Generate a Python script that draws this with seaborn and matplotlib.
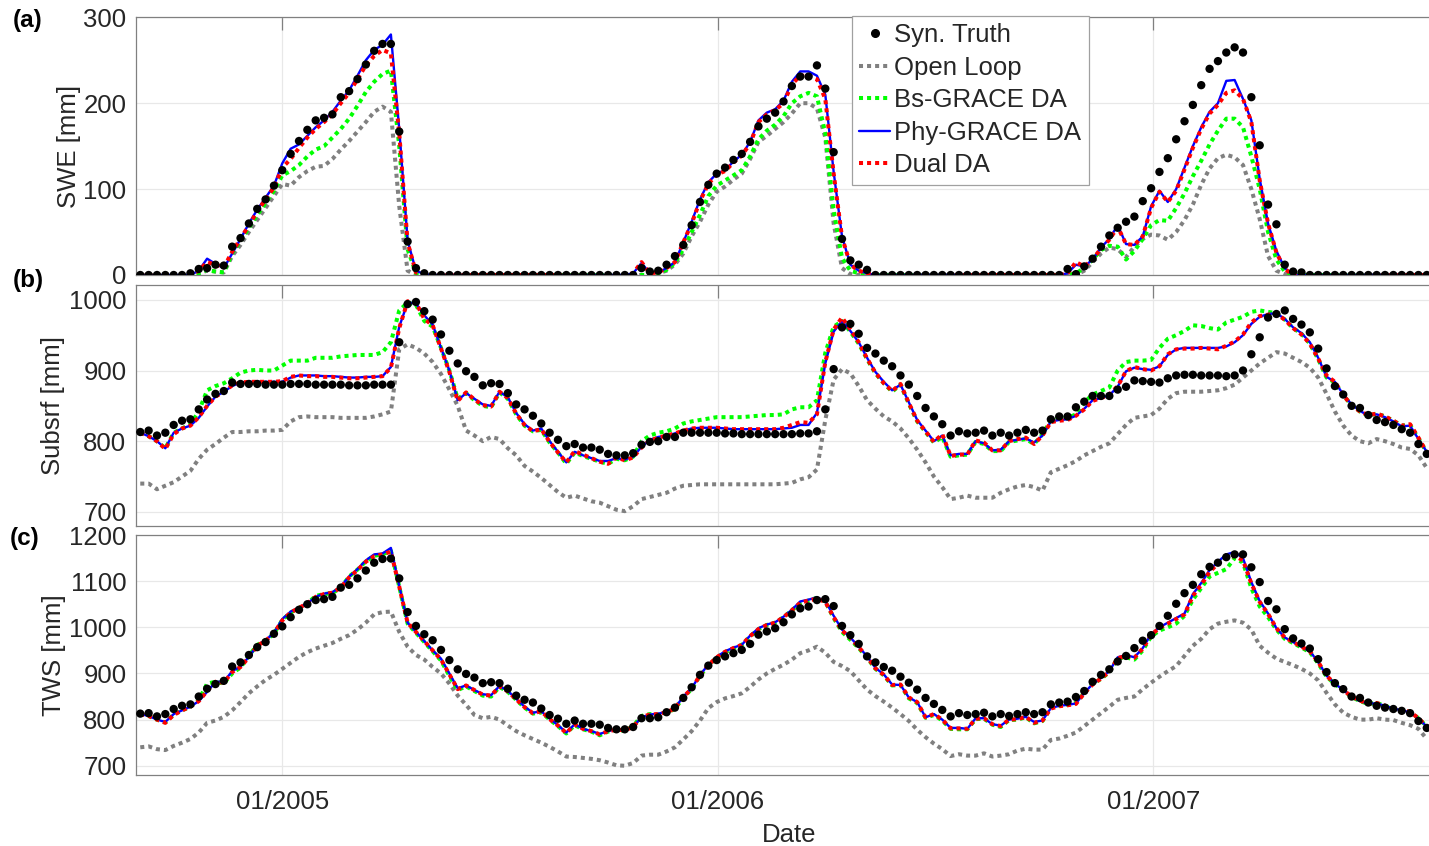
import numpy as np
import pandas as pd
import matplotlib
matplotlib.use("Agg")
import matplotlib.pyplot as plt
import seaborn as sns
from matplotlib.lines import Line2D

sns.set_style("white")
plt.rcParams['font.family'] = ['Liberation Sans', 'DejaVu Sans']

# weekly dates of the synthetic truth / model outputs
dates = pd.date_range("2004-09-04", periods=155, freq="7D")

# ---------------- (a) SWE [mm] ----------------
truth_a = [0, 0, 0, 0, 0, 0, 2, 7, 8, 12,
           11, 33, 43, 60, 77, 88, 104, 122, 141, 156,
           169, 180, 183, 187, 207, 214, 228, 245, 261, 269,
           269, 167, 39, 8, 2, 0, 0, 0, 0, 0,
           0, 0, 0, 0, 0, 0, 0, 0, 0, 0,
           0, 0, 0, 0, 0, 0, 0, 0, 0, 0,
           8, 4, 5, 12, 22, 35, 58, 85, 105, 118,
           125, 134, 141, 155, 173, 182, 189, 202, 220, 231,
           231, 244, 217, 143, 42, 17, 12, 6, 0, 0,
           0, 0, 0, 0, 0, 0, 0, 0, 0, 0,
           0, 0, 0, 0, 0, 0, 0, 0, 0, 0,
           0, 7, 1, 10, 19, 33, 46, 55, 62, 68,
           86, 101, 120, 136, 158, 179, 198, 221, 240, 249,
           259, 265, 259, 207, 151, 82, 59, 12, 4, 3,
           0, 0, 0, 0, 0, 0, 0, 0, 0, 0,
           0, 0, 0, 0, 0]
ol_a = [0, 0, 0, 0, 0, 0, 0, 2, 5, 4,
        3, 22, 35, 50, 64, 78, 92, 106, 104, 114,
        121, 126, 127, 135, 146, 156, 167, 178, 190, 196,
        190, 80, 5, 0, 0, 0, 0, 0, 0, 0,
        0, 0, 0, 0, 0, 0, 0, 0, 0, 0,
        0, 0, 0, 0, 0, 0, 0, 0, 0, 0,
        0, 0, 2, 5, 12, 25, 45, 62, 82, 97,
        103, 111, 118, 135, 155, 162, 170, 178, 188, 200,
        200, 194, 160, 60, 8, 1, 0, 0, 0, 0,
        0, 0, 0, 0, 0, 0, 0, 0, 0, 0,
        0, 0, 0, 0, 0, 0, 0, 0, 0, 0,
        0, 0, 0, 5, 15, 25, 32, 30, 21, 33,
        42, 47, 46, 41, 50, 64, 82, 105, 124, 136,
        140, 137, 128, 100, 65, 22, 5, 1, 0, 0,
        0, 0, 0, 0, 0, 0, 0, 0, 0, 0,
        0, 0, 0, 0, 0]
bs_a = [0, 0, 0, 0, 0, 0, 0, 2, 6, 4,
        3, 25, 40, 55, 70, 84, 98, 116, 121, 128,
        138, 146, 150, 160, 170, 182, 197, 213, 225, 234,
        238, 150, 30, 2, 0, 0, 0, 0, 0, 0,
        0, 0, 0, 0, 0, 0, 0, 0, 0, 0,
        0, 0, 0, 0, 0, 0, 0, 0, 0, 0,
        0, 0, 2, 6, 14, 30, 50, 70, 92, 104,
        110, 116, 122, 138, 158, 168, 175, 185, 200, 208,
        212, 208, 165, 75, 20, 5, 2, 0, 0, 0,
        0, 0, 0, 0, 0, 0, 0, 0, 0, 0,
        0, 0, 0, 0, 0, 0, 0, 0, 0, 0,
        0, 0, 2, 8, 18, 29, 34, 33, 18, 28,
        42, 58, 64, 63, 78, 95, 115, 133, 152, 168,
        182, 182, 172, 138, 100, 50, 18, 4, 0, 0,
        0, 0, 0, 0, 0, 0, 0, 0, 0, 0,
        0, 0, 0, 0, 0]
phy_a = [0, 0, 0, 0, 0, 0, 0, 5, 19, 13,
         8, 25, 42, 60, 76, 90, 104, 130, 147, 152,
         162, 172, 180, 190, 203, 215, 232, 250, 262, 268,
         280, 170, 40, 5, 1, 0, 0, 0, 0, 0,
         0, 0, 0, 0, 0, 0, 0, 0, 0, 0,
         0, 0, 0, 0, 0, 0, 0, 0, 0, 2,
         14, 2, 3, 8, 15, 38, 62, 88, 108, 118,
         122, 132, 140, 155, 180, 189, 193, 203, 225, 237,
         237, 232, 210, 120, 45, 12, 5, 2, 0, 0,
         0, 0, 0, 0, 0, 0, 0, 0, 0, 0,
         0, 0, 0, 0, 0, 0, 0, 0, 0, 0,
         0, 2, 12, 10, 18, 32, 42, 58, 36, 35,
         45, 80, 98, 85, 100, 125, 150, 172, 190, 200,
         226, 227, 205, 180, 112, 60, 28, 8, 0, 0,
         0, 0, 0, 0, 0, 0, 0, 0, 0, 0,
         0, 0, 0, 0, 0]
dual_a = [0, 0, 0, 0, 0, 0, 0, 5, 15, 12,
          9, 27, 42, 58, 74, 88, 102, 125, 135, 148,
          160, 170, 178, 187, 200, 212, 228, 244, 255, 262,
          258, 165, 38, 3, 0, 0, 0, 0, 0, 0,
          0, 0, 0, 0, 0, 0, 0, 0, 0, 0,
          0, 0, 0, 0, 0, 0, 0, 0, 0, 2,
          15, 2, 3, 8, 15, 38, 60, 86, 106, 117,
          121, 131, 139, 153, 178, 187, 192, 200, 222, 232,
          232, 228, 205, 118, 44, 12, 5, 2, 0, 0,
          0, 0, 0, 0, 0, 0, 0, 0, 0, 0,
          0, 0, 0, 0, 0, 0, 0, 0, 0, 0,
          0, 2, 15, 10, 18, 31, 41, 56, 36, 35,
          45, 78, 97, 85, 98, 123, 148, 170, 188, 198,
          212, 215, 205, 178, 110, 60, 26, 7, 0, 0,
          0, 0, 0, 0, 0, 0, 0, 0, 0, 0,
          0, 0, 0, 0, 0]

# ---------------- (b) Subsurface storage [mm] ----------------
truth_b = [813, 815, 808, 812, 823, 829, 831, 845, 859, 867,
           871, 883, 881, 881, 881, 880, 880, 880, 881, 881,
           881, 880, 880, 880, 880, 879, 879, 879, 880, 880,
           880, 940, 994, 997, 984, 972, 951, 928, 910, 899,
           891, 879, 882, 881, 868, 852, 845, 836, 825, 812,
           802, 793, 796, 791, 791, 788, 782, 780, 780, 783,
           795, 799, 800, 806, 806, 812, 812, 812, 812, 812,
           811, 811, 810, 810, 810, 810, 810, 810, 810, 811,
           811, 814, 845, 902, 961, 966, 952, 932, 924, 914,
           906, 893, 880, 864, 847, 835, 824, 808, 814, 811,
           812, 815, 808, 812, 808, 812, 816, 812, 815, 831,
           835, 835, 848, 856, 864, 864, 864, 873, 877, 886,
           885, 884, 883, 889, 893, 894, 894, 893, 893, 893,
           892, 893, 900, 923, 947, 975, 980, 985, 973, 965,
           954, 931, 903, 878, 866, 850, 847, 837, 830, 827,
           823, 817, 812, 796, 782]
ol_b = [740, 740, 732, 737, 742, 750, 758, 775, 788, 796,
        805, 813, 813, 814, 814, 815, 815, 816, 828, 834,
        835, 834, 834, 834, 833, 833, 833, 833, 835, 838,
        842, 930, 937, 932, 924, 912, 895, 873, 850, 815,
        808, 800, 806, 803, 790, 780, 765, 757, 748, 738,
        728, 720, 723, 719, 715, 713, 708, 703, 701, 708,
        718, 721, 724, 727, 733, 737, 738, 739, 739, 739,
        739, 739, 739, 739, 739, 739, 739, 740, 741, 746,
        749, 760, 830, 887, 902, 896, 878, 858, 846, 835,
        828, 818, 804, 788, 770, 750, 735, 718, 720, 723,
        720, 720, 720, 727, 732, 736, 738, 735, 730, 756,
        761, 766, 772, 780, 786, 792, 797, 810, 823, 833,
        835, 837, 846, 860, 868, 870, 870, 870, 871, 872,
        875, 880, 890, 900, 910, 918, 926, 924, 918, 912,
        904, 890, 867, 842, 822, 808, 800, 797, 803, 800,
        796, 791, 789, 780, 762]
bs_b = [812, 807, 800, 790, 812, 818, 824, 842, 872, 878,
        882, 889, 897, 900, 901, 900, 900, 907, 914, 914,
        914, 918, 918, 918, 920, 921, 922, 922, 922, 926,
        940, 985, 996, 993, 970, 962, 932, 900, 860, 868,
        858, 850, 848, 869, 860, 838, 822, 814, 816, 798,
        784, 768, 784, 779, 775, 771, 768, 775, 773, 778,
        800, 808, 812, 814, 818, 825, 828, 830, 832, 834,
        834, 834, 834, 835, 836, 837, 837, 838, 845, 848,
        848, 858, 925, 962, 970, 955, 938, 916, 896, 882,
        870, 880, 853, 828, 813, 798, 806, 778, 780, 781,
        799, 796, 786, 786, 799, 801, 803, 796, 810, 830,
        832, 833, 838, 855, 866, 871, 876, 900, 912, 914,
        914, 915, 932, 945, 950, 956, 964, 963, 960, 958,
        968, 972, 976, 983, 985, 983, 981, 972, 960, 952,
        938, 916, 890, 883, 865, 851, 842, 836, 839, 835,
        829, 822, 823, 804, 784]
phy_b = [812, 807, 800, 790, 812, 818, 822, 833, 849, 863,
         870, 878, 883, 884, 884, 884, 884, 884, 890, 893,
         893, 893, 892, 892, 891, 890, 890, 891, 891, 892,
         905, 962, 996, 995, 978, 965, 932, 900, 858, 868,
         860, 852, 850, 870, 862, 840, 824, 815, 818, 800,
         785, 770, 785, 780, 776, 772, 772, 776, 774, 778,
         792, 802, 806, 808, 811, 815, 818, 819, 819, 819,
         818, 817, 817, 817, 817, 817, 817, 818, 819, 823,
         823, 840, 910, 955, 970, 956, 940, 918, 898, 884,
         872, 880, 855, 830, 815, 800, 808, 780, 782, 782,
         800, 797, 787, 788, 800, 802, 804, 798, 808, 828,
         830, 831, 836, 846, 858, 861, 865, 877, 899, 904,
         902, 901, 906, 922, 930, 932, 932, 932, 932, 932,
         934, 940, 950, 966, 976, 980, 981, 973, 961, 953,
         940, 918, 891, 884, 866, 852, 843, 836, 838, 834,
         828, 821, 822, 803, 785]
dual_b = [812, 807, 800, 789, 810, 818, 822, 834, 850, 863,
          870, 879, 883, 884, 884, 884, 884, 885, 891, 893,
          892, 892, 891, 891, 890, 889, 889, 890, 891, 892,
          904, 960, 998, 996, 973, 964, 931, 898, 857, 869,
          859, 851, 849, 870, 861, 839, 823, 814, 817, 799,
          784, 770, 786, 781, 776, 771, 768, 777, 773, 777,
          791, 801, 805, 808, 811, 815, 818, 819, 819, 819,
          818, 817, 817, 817, 817, 817, 817, 819, 823, 827,
          826, 838, 912, 958, 975, 958, 940, 917, 897, 882,
          871, 881, 854, 829, 814, 799, 810, 779, 781, 781,
          801, 798, 787, 787, 800, 803, 805, 796, 808, 827,
          829, 830, 836, 845, 857, 861, 866, 878, 899, 905,
          902, 900, 906, 923, 930, 931, 931, 932, 931, 930,
          935, 941, 951, 968, 977, 979, 980, 972, 960, 951,
          938, 917, 893, 884, 865, 851, 842, 837, 839, 835,
          829, 822, 824, 805, 784]

# ---------------- (c) TWS [mm] ----------------
truth_c = [813, 814, 807, 812, 823, 830, 833, 850, 867, 877,
           884, 915, 924, 940, 957, 968, 986, 1002, 1022, 1038,
           1050, 1059, 1061, 1066, 1086, 1092, 1106, 1123, 1140, 1148,
           1149, 1106, 1033, 1003, 985, 972, 951, 929, 909, 899,
           891, 879, 881, 879, 867, 852, 843, 837, 824, 810,
           802, 791, 798, 791, 791, 789, 782, 779, 779, 784,
           803, 803, 805, 816, 826, 847, 870, 897, 917, 929,
           937, 944, 951, 964, 984, 991, 998, 1011, 1028, 1041,
           1045, 1059, 1061, 1046, 1003, 983, 964, 937, 924, 914,
           906, 893, 880, 865, 847, 834, 821, 807, 814, 810,
           812, 815, 807, 812, 808, 812, 816, 812, 816, 833,
           837, 839, 849, 862, 882, 897, 909, 926, 938, 955,
           971, 983, 1003, 1025, 1051, 1074, 1092, 1115, 1131, 1140,
           1152, 1158, 1158, 1130, 1098, 1057, 1039, 996, 976, 965,
           954, 931, 903, 879, 866, 850, 847, 837, 830, 826,
           823, 819, 814, 797, 782]
ol_c = [740, 742, 736, 734, 743, 750, 758, 772, 793, 798,
        806, 820, 838, 857, 872, 886, 897, 910, 923, 936,
        946, 954, 960, 966, 975, 983, 995, 1010, 1028, 1033,
        1034, 990, 958, 940, 930, 914, 900, 878, 852, 832,
        810, 803, 806, 800, 787, 775, 766, 758, 750, 741,
        731, 720, 719, 717, 715, 712, 707, 701, 700, 706,
        722, 724, 724, 731, 740, 757, 775, 798, 825, 838,
        846, 851, 857, 871, 887, 900, 910, 919, 930, 944,
        950, 958, 945, 925, 916, 905, 885, 865, 851, 839,
        826, 812, 797, 778, 762, 748, 736, 721, 725, 722,
        722, 727, 720, 722, 725, 733, 737, 735, 735, 756,
        759, 765, 772, 786, 800, 814, 828, 843, 847, 850,
        866, 880, 893, 905, 916, 938, 960, 975, 996, 1008,
        1012, 1015, 1010, 995, 960, 945, 932, 925, 918, 910,
        900, 885, 858, 833, 815, 806, 800, 800, 803, 800,
        799, 793, 788, 780, 758]
bs_c = [812, 808, 800, 794, 811, 820, 828, 842, 878, 882,
        878, 900, 913, 938, 962, 972, 986, 1016, 1032, 1042,
        1052, 1068, 1072, 1074, 1086, 1110, 1125, 1143, 1155, 1158,
        1166, 1088, 1008, 988, 968, 948, 928, 895, 864, 872,
        862, 852, 850, 871, 860, 843, 826, 813, 816, 800,
        786, 770, 788, 779, 774, 766, 774, 777, 776, 786,
        808, 812, 811, 815, 823, 848, 866, 895, 917, 934,
        946, 954, 962, 980, 996, 1005, 1010, 1022, 1037, 1052,
        1058, 1064, 1056, 1020, 990, 973, 955, 934, 910, 896,
        874, 875, 846, 836, 804, 810, 798, 780, 779, 779,
        801, 802, 789, 784, 799, 800, 805, 792, 797, 826,
        830, 832, 836, 858, 878, 888, 903, 932, 935, 930,
        950, 980, 993, 1000, 1008, 1025, 1060, 1085, 1110, 1118,
        1126, 1150, 1140, 1085, 1045, 1022, 995, 975, 966, 956,
        946, 922, 893, 877, 863, 849, 840, 834, 836, 830,
        824, 820, 817, 803, 785]
phy_c = [812, 808, 800, 795, 812, 820, 828, 840, 860, 882,
         882, 905, 915, 936, 961, 972, 988, 1018, 1034, 1043,
         1052, 1066, 1073, 1076, 1088, 1110, 1126, 1145, 1158, 1160,
         1172, 1090, 1010, 990, 970, 950, 932, 900, 868, 874,
         864, 855, 853, 873, 862, 845, 828, 815, 818, 802,
         788, 772, 790, 780, 775, 769, 775, 779, 778, 785,
         805, 811, 813, 817, 825, 850, 868, 897, 919, 936,
         948, 956, 962, 982, 998, 1006, 1011, 1023, 1038, 1056,
         1060, 1065, 1057, 1025, 995, 978, 958, 937, 912, 898,
         876, 875, 848, 838, 805, 812, 800, 782, 782, 780,
         803, 803, 790, 787, 800, 802, 806, 795, 798, 825,
         830, 832, 835, 858, 877, 890, 905, 935, 940, 935,
         955, 985, 1000, 1010, 1020, 1030, 1072, 1096, 1124, 1142,
         1158, 1163, 1150, 1098, 1057, 1030, 998, 978, 968, 958,
         948, 925, 895, 878, 864, 850, 840, 835, 835, 830,
         824, 820, 816, 802, 785]
dual_c = [812, 808, 800, 793, 810, 820, 828, 840, 862, 882,
          880, 903, 914, 935, 960, 971, 987, 1015, 1032, 1042,
          1052, 1066, 1072, 1075, 1086, 1108, 1124, 1142, 1154, 1158,
          1164, 1088, 1010, 990, 970, 950, 930, 898, 866, 874,
          864, 854, 852, 872, 861, 844, 827, 814, 818, 801,
          787, 771, 789, 780, 775, 768, 775, 778, 777, 784,
          806, 811, 812, 816, 824, 849, 867, 896, 918, 935,
          947, 955, 962, 981, 996, 1005, 1010, 1022, 1037, 1053,
          1058, 1062, 1055, 1022, 993, 977, 957, 936, 911, 897,
          875, 876, 848, 838, 805, 812, 800, 781, 781, 780,
          802, 803, 790, 786, 800, 801, 806, 793, 798, 824,
          829, 831, 834, 857, 876, 889, 904, 933, 938, 934,
          954, 983, 999, 1008, 1018, 1028, 1068, 1092, 1120, 1138,
          1150, 1155, 1145, 1095, 1055, 1029, 998, 978, 968, 958,
          948, 925, 895, 878, 864, 850, 841, 835, 836, 830,
          824, 820, 817, 803, 785]

labels = ["Syn. Truth", "Open Loop", "Bs-GRACE DA", "Phy-GRACE DA", "Dual DA"]
ylabels = ["SWE [mm]", "Subsrf [mm]", "TWS [mm]"]
xtick_dates = pd.to_datetime(["2005-01-01", "2006-01-01", "2007-01-01"])
xtick_labels = ["01/2005", "01/2006", "01/2007"]

C_OL, C_BS, C_PHY, C_DUAL = "#808080", "#00ff00", "#0000ff", "#ff0000"
DOT = (0, (1, 1))
LW_DOT = 2.9
FS = 18.5
TXT = "#262626"

FW, FH = 1429, 846
fig = plt.figure(figsize=(FW / 100, FH / 100), dpi=100)
L = 135.5 / FW
W = 1306.8 / FW
axA = fig.add_axes([L, 1 - 275 / FH, W, (275 - 17.3) / FH])
axB = fig.add_axes([L, 1 - 526 / FH, W, (526 - 285) / FH])
axC = fig.add_axes([L, 1 - 775 / FH, W, (775 - 535) / FH])


def draw(ax, truth, ol, bs, phy, dual):
    sns.lineplot(x=dates, y=ol, ax=ax, color=C_OL, linewidth=LW_DOT,
                 linestyle=DOT, errorbar=None, zorder=2)
    sns.lineplot(x=dates, y=bs, ax=ax, color=C_BS, linewidth=LW_DOT,
                 linestyle=DOT, errorbar=None, zorder=3)
    sns.lineplot(x=dates, y=phy, ax=ax, color=C_PHY, linewidth=1.7,
                 errorbar=None, zorder=4)
    sns.lineplot(x=dates, y=dual, ax=ax, color=C_DUAL, linewidth=LW_DOT,
                 linestyle=DOT, errorbar=None, zorder=5)
    sns.scatterplot(x=dates, y=truth, ax=ax, color="k", s=36,
                    edgecolor="none", linewidth=0, zorder=6)


draw(axA, truth_a, ol_a, bs_a, phy_a, dual_a)
draw(axB, truth_b, ol_b, bs_b, phy_b, dual_b)
draw(axC, truth_c, ol_c, bs_c, phy_c, dual_c)

ylims = [(0, 300), (680, 1021), (680, 1200)]
yticks = [[0, 100, 200, 300], [700, 800, 900, 1000],
          [700, 800, 900, 1000, 1100, 1200]]
ylab_x = [-0.0415, -0.0542, -0.0530]

for i, ax in enumerate([axA, axB, axC]):
    ax.set_xlim(pd.Timestamp("2004-08-31"), pd.Timestamp("2007-08-31"))
    ax.set_ylim(*ylims[i])
    ax.set_yticks(yticks[i])
    ax.set_xticks(xtick_dates)
    ax.grid(True, color="#e8e8e8", linewidth=0.9)
    ax.set_axisbelow(True)
    for sp in ax.spines.values():
        sp.set_color("#808080")
        sp.set_linewidth(0.9)
    ax.tick_params(axis="both", direction="in", length=9.4, width=0.9,
                   color="#808080", labelcolor=TXT, labelsize=FS,
                   top=True, right=True)
    ax.tick_params(axis="y", pad=6.5)
    ax.tick_params(axis="x", pad=10.5)
    ax.set_ylabel(ylabels[i], fontsize=FS, color=TXT)
    ax.yaxis.set_label_coords(ylab_x[i], 0.5)
    ax.set_xlabel("")
    if i < 2:
        ax.tick_params(labelbottom=False)

axC.set_xticklabels(xtick_labels)
axC.set_xlabel("Date", fontsize=FS, color=TXT, labelpad=6.5)

handles = [
    Line2D([], [], ls="none", marker="o", color="k", markersize=5.5),
    Line2D([], [], color=C_OL, lw=LW_DOT, ls=DOT),
    Line2D([], [], color=C_BS, lw=LW_DOT, ls=DOT),
    Line2D([], [], color=C_PHY, lw=1.7),
    Line2D([], [], color=C_DUAL, lw=LW_DOT, ls=DOT),
]
leg = axA.legend(handles, labels, loc="upper left",
                 bbox_to_anchor=(851.7 / FW, 1 - 15.7 / FH),
                 bbox_transform=fig.transFigure, fontsize=FS, frameon=True,
                 fancybox=False, edgecolor="#a0a0a0", framealpha=1,
                 borderpad=0.3, handlelength=1.2, handletextpad=0.15,
                 labelspacing=0.33, borderaxespad=0)
leg.get_frame().set_linewidth(0.9)
leg.set_zorder(20)

for txt, (px, py) in zip(["(a)", "(b)", "(c)"], [(28, 21), (28, 281), (25, 538)]):
    fig.text(px / FW, 1 - py / FH, txt, fontsize=17.5, fontweight="bold",
             ha="center", va="center", color="k")

fig.savefig("out.png", dpi=100)
